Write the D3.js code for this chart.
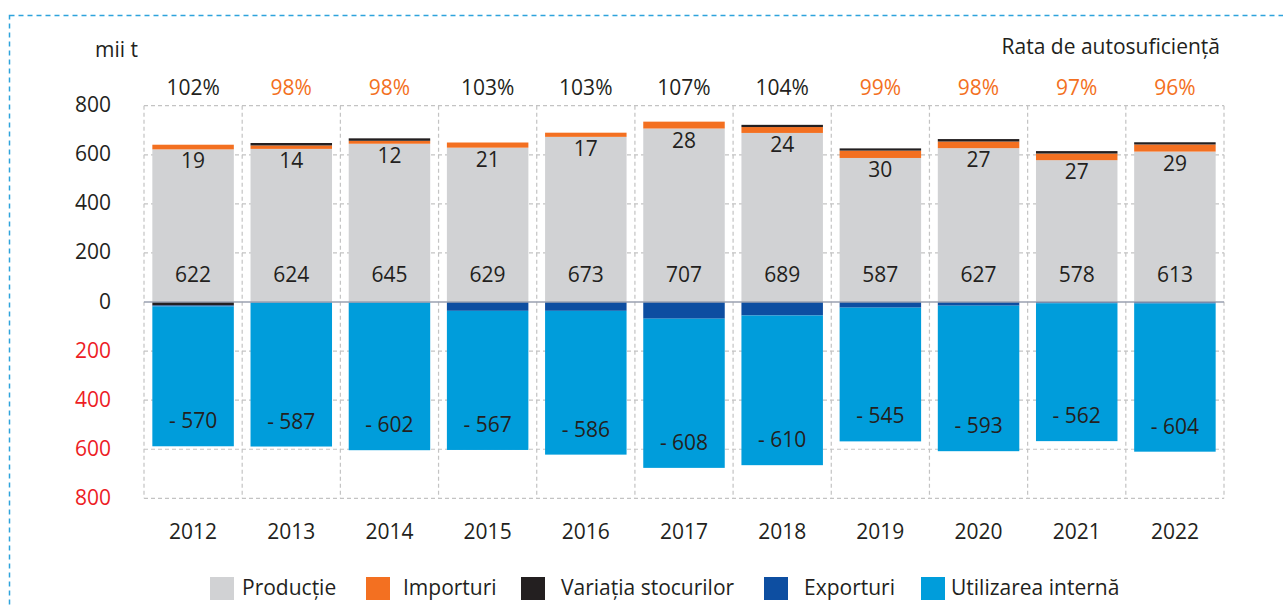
<!DOCTYPE html>
<html>
<head>
<meta charset="utf-8">
<script src="https://cdn.jsdelivr.net/npm/d3@7"></script>
<style>
  body { margin: 0; background: #fff; }
  #chart text { font-family: "Open Sans", sans-serif; font-size: 21px; fill: #231f20; }
</style>
</head>
<body>
<div id="chart"><svg></svg></div>
<script>
var years = ["2012", "2013", "2014", "2015", "2016", "2017", "2018", "2019", "2020", "2021", "2022"];
var productie = [622, 624, 645, 629, 673, 707, 689, 587, 627, 578, 613];
var importuri = [19, 14, 12, 21, 17, 28, 24, 30, 27, 27, 29];
var stocuri = [-14, 10, 10, 0, 0, 0, 9, 9, 10, 10, 9];
var exporturi = [-4, -2, -2, -36, -36, -68, -55, -23, -15, -5, -6];
var utilizare = [-570, -587, -602, -567, -586, -608, -610, -545, -593, -562, -604];
var rata = [102, 98, 98, 103, 103, 107, 104, 99, 98, 97, 96];
var yTicks = [-800, -600, -400, -200, 0, 200, 400, 600, 800];

var keys = ["productie", "importuri", "stocuri", "exporturi", "utilizare"];
var names = ["Producție", "Importuri", "Variația stocurilor", "Exporturi", "Utilizarea internă"];
var colors = ["#d1d2d4", "#f37021", "#231f20", "#0d4ea1", "#009ddb"];

var rows = years.map(function(y, i) {
  return {
    year: y,
    productie: productie[i],
    importuri: importuri[i],
    stocuri: stocuri[i],
    exporturi: exporturi[i],
    utilizare: utilizare[i]
  };
});

var svg = d3.select("#chart svg").
  attr("width", 1283).
  attr("height", 607);

// dashed frame round the whole figure
svg.append("rect").
  attr("x", 9.5).
  attr("y", 15.5).
  attr("width", 1300).
  attr("height", 700).
  attr("fill", "none").
  attr("stroke", "#2ea3dc").
  attr("stroke-width", 1.5).
  attr("stroke-dasharray", "5,4");

var left = 144, right = 1224;
var xScale = d3.scaleBand().
  domain(years).
  range([left, right]).
  padding(0);

var yScale = d3.scaleLinear().
  domain([-800, 800]).
  range([498.3, 105.7]);

var bw = xScale.bandwidth();
var barW = bw * 0.83;
var barOff = (bw - barW) / 2;

// grid
var grid = svg.append("g").attr("class", "grid");
grid.selectAll("line.h").
  data(yTicks.filter(function(v) { return v !== 0; })).
  enter().append("line").
  attr("x1", left).
  attr("x2", right).
  attr("y1", function(d) { return yScale(d); }).
  attr("y2", function(d) { return yScale(d); }).
  attr("stroke", "#c3c3c3").
  attr("stroke-width", 1.2).
  attr("stroke-dasharray", "4,3");

grid.selectAll("line.v").
  data(years.concat(["end"])).
  enter().append("line").
  attr("x1", function(d) { return d === "end" ? right : xScale(d); }).
  attr("x2", function(d) { return d === "end" ? right : xScale(d); }).
  attr("y1", yScale(800)).
  attr("y2", yScale(-800)).
  attr("stroke", "#c3c3c3").
  attr("stroke-width", 1.2).
  attr("stroke-dasharray", "4,3");

var stack = d3.stack().
  keys(keys).
  offset(d3.stackOffsetDiverging);
var series = stack(rows);

svg.append("g").
  selectAll("g").
  data(series).
  enter().append("g").
  attr("fill", function(d, i) { return colors[i]; }).
  selectAll("rect").
  data(function(d) { return d; }).
  enter().append("rect").
  attr("x", function(d) { return xScale(d.data.year) + barOff; }).
  attr("width", barW).
  attr("y", function(d) { return yScale(Math.max(d[0], d[1])); }).
  attr("height", function(d) { return Math.abs(yScale(d[0]) - yScale(d[1])); });

// zero line
svg.append("line").
  attr("x1", left).
  attr("x2", right).
  attr("y1", yScale(0)).
  attr("y2", yScale(0)).
  attr("stroke", "#9aa1b0").
  attr("stroke-width", 1.5);

// y tick labels
svg.append("g").
  selectAll("text").
  data(yTicks).
  enter().append("text").
  attr("x", 111).
  attr("y", function(d) { return yScale(d) + 6.5; }).
  attr("text-anchor", "end").
  style("fill", function(d) { return d < 0 ? "#ed1c24" : "#231f20"; }).
  text(function(d) { return Math.abs(d); });

// year labels
svg.append("g").
  selectAll("text").
  data(years).
  enter().append("text").
  attr("x", function(d) { return xScale(d) + bw / 2; }).
  attr("y", 539).
  attr("text-anchor", "middle").
  text(function(d) { return d; });

// self-sufficiency rate
svg.append("g").
  selectAll("text").
  data(rata).
  enter().append("text").
  attr("x", function(d, i) { return xScale(years[i]) + bw / 2; }).
  attr("y", 95).
  attr("text-anchor", "middle").
  style("fill", function(d) { return d < 100 ? "#f37021" : "#231f20"; }).
  text(function(d) { return d + "%"; });

// production labels near the base
svg.append("g").
  selectAll("text").
  data(productie).
  enter().append("text").
  attr("x", function(d, i) { return xScale(years[i]) + bw / 2; }).
  attr("y", yScale(0) - 20).
  attr("text-anchor", "middle").
  text(function(d) { return d; });

// import labels under the top of the production bar
svg.append("g").
  selectAll("text").
  data(importuri).
  enter().append("text").
  attr("x", function(d, i) { return xScale(years[i]) + bw / 2; }).
  attr("y", function(d, i) { return yScale(productie[i]) + 19; }).
  attr("text-anchor", "middle").
  text(function(d) { return d; });

// domestic use labels near the bottom of the bar
var utilSeries = series[keys.indexOf("utilizare")];
svg.append("g").
  selectAll("text").
  data(utilSeries).
  enter().append("text").
  attr("x", function(d) { return xScale(d.data.year) + bw / 2; }).
  attr("y", function(d) { return yScale(Math.min(d[0], d[1])) - 18; }).
  attr("text-anchor", "middle").
  text(function(d) { return "- " + Math.abs(d.data.utilizare); });

svg.append("text").
  attr("x", 95).
  attr("y", 57).
  text("mii t");

svg.append("text").
  attr("x", 1220).
  attr("y", 54).
  attr("text-anchor", "end").
  text("Rata de autosuficiență");

// legend
var legendX = [210, 366, 521, 764, 921];
var legendGap = [32, 37, 40, 40, 30];
var legend = svg.append("g").
  selectAll("g").
  data(names).
  enter().append("g").
  attr("transform", function(d, i) { return "translate(" + legendX[i] + ",577)"; });

legend.append("rect").
  attr("width", 24).
  attr("height", 23).
  attr("fill", function(d, i) { return colors[i]; });

legend.append("text").
  attr("x", function(d, i) { return legendGap[i]; }).
  attr("y", 18).
  text(function(d) { return d; });
</script>
</body>
</html>
